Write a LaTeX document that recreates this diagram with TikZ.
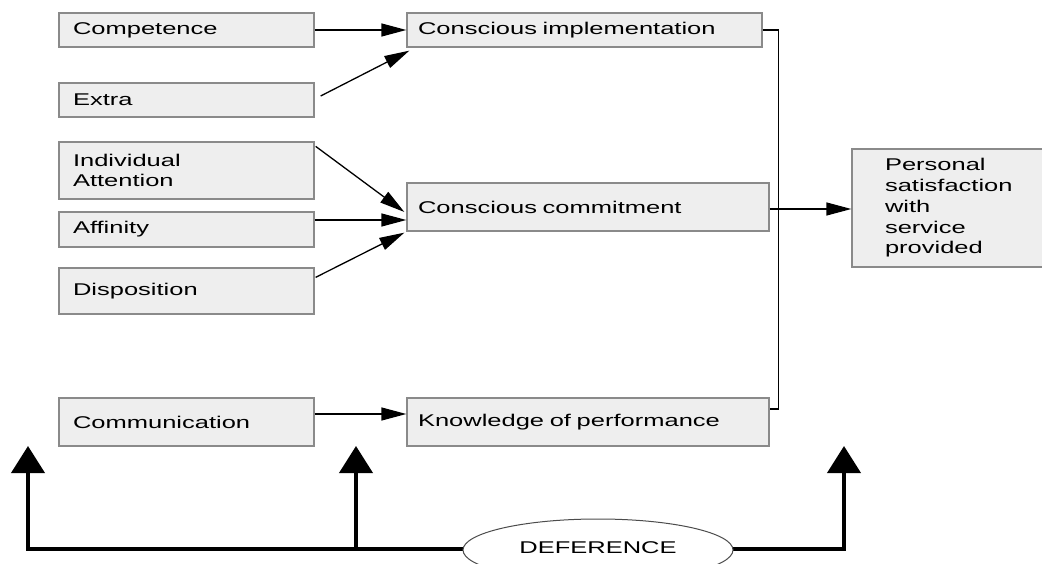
\documentclass[tikz,border=0pt]{standalone}
\usepackage{fontspec}
\setmainfont{Liberation Sans}[FakeStretch=1.5]
\usetikzlibrary{arrows.meta,calc,shapes.geometric}
\definecolor{boxfill}{HTML}{EEEEEE}
\definecolor{boxline}{HTML}{8A8A8A}
\tikzset{
  box/.style={draw=boxline, fill=boxfill, line width=1.3pt, rectangle,
    font=\fontsize{17}{20}\selectfont, align=left, inner ysep=0pt},
  lbox/.style={box, minimum width=255pt, inner xsep=14pt, text width=227pt},
  mbox/.style={box, inner xsep=11pt},
  conn/.style={line width=1.3pt, -{Triangle[length=25pt,width=13pt]}},
  plain/.style={line width=1.3pt},
  thick arrow/.style={line width=4pt, line join=miter},
  thickhead/.style={{Triangle[length=27pt,width=33pt]}-{Triangle[length=27pt,width=33pt]}},
  uphead/.style={-{Triangle[length=27pt,width=33pt]}}
}
\begin{document}
\begin{tikzpicture}[x=1pt,y=-1pt]
\useasboundingbox (0,0) rectangle (1042,564);

% left column
\node[lbox, minimum height=34pt] (comp) at (186.5,30) {Competence};
\node[lbox, minimum height=34pt] (extra) at (186.5,100) {Extra};
\node[lbox, minimum height=57pt] (indiv) at (186.5,170.5) {Individual\\Attention};
\node[lbox, minimum height=35pt] (aff) at (186.5,229.5) {Affinity};
\node[lbox, minimum height=46pt] (disp) at (186.5,291) {Disposition};
\node[lbox, minimum height=48pt] (comm) at (186.5,422) {Communication};

% middle column
\node[mbox, minimum width=355pt, text width=333pt, minimum height=34pt] (impl) at (584.5,30) {Conscious implementation};
\node[mbox, minimum width=362pt, text width=340pt, minimum height=48pt] (commit) at (588,207) {Conscious commitment};
\node[mbox, minimum width=362pt, text width=340pt, minimum height=48pt] (know) at (588,422) {Knowledge of performance};

% right box
\node[box, minimum width=194pt, minimum height=118pt, inner xsep=33pt, text width=128pt,
  font=\fontsize{17}{20.7}\selectfont] (pers) at (949,208)
  {Personal\\satisfaction\\with\\service\\provided};

% connectors
\draw[conn] (comp.east) -- (impl.west);
\draw[conn] ($(extra.east)+(6,-4)$) -- ($(impl.south west)+(3,3)$);
\draw[conn] ($(indiv.north east)+(1,5)$) -- ($(commit.west)+(-2,5)$);
\draw[conn] ($(aff.east)+(0,-9.5)$) -- ($(commit.west)+(0,13)$);
\draw[conn] ($(disp.north east)+(1,10)$) -- ($(commit.south west)+(-2,1)$);
\draw[conn] ($(comm.east)+(0,-8)$) -- ($(know.west)+(0,-8)$);
\draw[plain] (impl.east) -- ++(16,0) |- ($(know.east)+(0,-13)$);
\draw[conn] ($(commit.east)+(0,2)$) -- ($(pers.west)+(0,1)$);

% deference
\coordinate (b1) at (28,549);
\coordinate (b2) at (356,549);
\coordinate (b3) at (844,549);
\coordinate (t1) at (28,446);
\coordinate (t2) at (356,446);
\coordinate (t3) at (844,446);
\draw[thick arrow, thickhead] (t1) -- (b1) -- (b3) -- (t3);
\draw[thick arrow, uphead] (b2) -- (t2);
\node[ellipse, draw=black!70, fill=white, line width=1pt, minimum width=270pt, minimum height=62pt,
  inner sep=0pt, font=\fontsize{17}{20}\selectfont] (def) at (598,550) {\raisebox{4pt}{DEFERENCE}};
\end{tikzpicture}
\end{document}
